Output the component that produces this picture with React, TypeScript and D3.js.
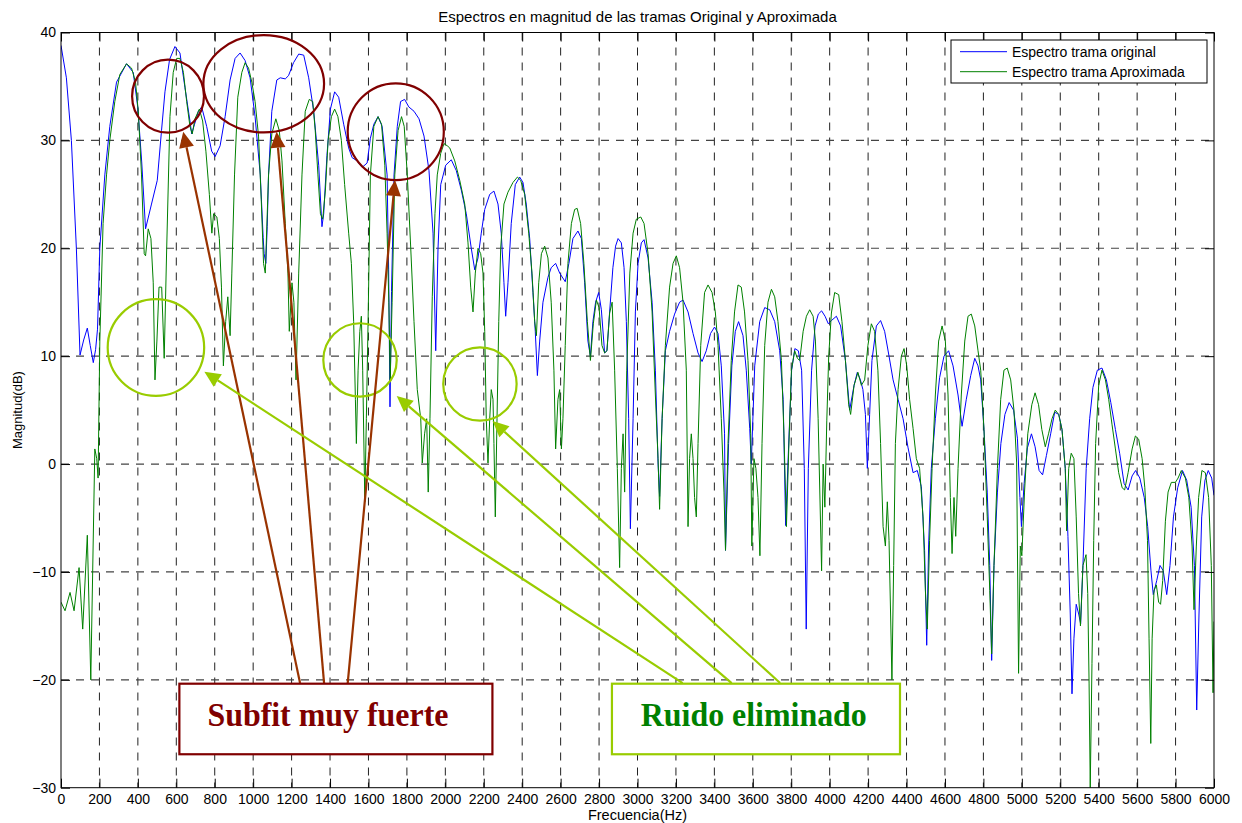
import { useEffect, useRef } from "react";
import * as d3 from "d3";

// Frequency (Hz) / magnitude (dB) pairs
const spectrumOriginal: [number, number][] = [
  [0, 38.8], [28, 35.8], [54, 30], [80, 20], [99, 10.1], [118, 11.5], [137, 12.6], [152, 11], [168, 9.4], [180, 10.6],
  [190, 12.5], [202, 20], [228, 26.8], [254, 31.3], [289, 35.4], [341, 37.1], [376, 36.3], [400, 33], [420, 28], [440, 21.8],
  [471, 24.1], [501, 26.3], [523, 30.9], [541, 34.5], [565, 37.5], [593, 38.7], [619, 38.1], [645, 34.9], [671, 31.8], [680, 30.6],
  [695, 31.5], [715, 32.7], [732, 33.1], [758, 31.3], [784, 29], [802, 28.5], [828, 29.5], [854, 32.2], [880, 35.6], [906, 37.6],
  [932, 38.1], [958, 37.4], [984, 35.8], [1010, 32.2], [1037, 26.8], [1052, 21], [1057, 19.5], [1066, 18.6], [1073, 22], [1080, 26.8],
  [1097, 32.7], [1123, 35.6], [1141, 35.8], [1167, 35.7], [1184, 36], [1210, 37.2], [1237, 38], [1263, 37.9], [1289, 35.8], [1315, 32.7],
  [1341, 27.7], [1358, 22], [1367, 23.2], [1384, 28.6], [1402, 32.9], [1424, 34.5], [1445, 34], [1471, 31.5], [1497, 29.3], [1515, 28.4],
  [1541, 28.1], [1567, 27.5], [1593, 27.9], [1610, 30.2], [1628, 31.5], [1650, 32.2], [1671, 31.3], [1697, 26.8], [1705, 18], [1712, 5.3],
  [1720, 16], [1733, 26.8], [1750, 31.3], [1767, 33.6], [1788, 33.8], [1810, 33.1], [1837, 32.7], [1863, 32], [1889, 30.4], [1915, 27.2],
  [1936, 21.4], [1950, 10.5], [1962, 20], [1976, 25.9], [2002, 27.7], [2031, 28.2], [2057, 27.2], [2083, 25.4], [2109, 23.2], [2135, 20],
  [2153, 18], [2170, 19.1], [2187, 21.4], [2205, 23.6], [2231, 25], [2253, 25.3], [2274, 24.1], [2291, 21.4], [2305, 16.8], [2314, 13.7],
  [2326, 16.8], [2343, 22.3], [2364, 25.9], [2387, 26.6], [2404, 26.1], [2421, 24.1], [2439, 20.9], [2456, 15.9], [2468, 12.3], [2479, 8.2],
  [2491, 11.4], [2508, 15], [2534, 17.3], [2551, 18.2], [2574, 18.6], [2595, 17.7], [2624, 16.9], [2643, 18.6], [2664, 20.9], [2690, 21.6],
  [2708, 20.9], [2725, 16.8], [2742, 11.4], [2755, 10], [2768, 13.2], [2782, 15], [2798, 15.9], [2812, 14.3], [2829, 10.3], [2841, 10.5],
  [2855, 14.1], [2872, 18.2], [2886, 20.2], [2899, 20.9], [2916, 20.5], [2930, 18.2], [2942, 13.2], [2954, 4.2], [2963, -6], [2977, 4.2],
  [2989, 14.1], [3003, 18.6], [3020, 20.5], [3034, 20.8], [3055, 19.1], [3076, 15], [3093, 8.7], [3107, 0.1], [3115, -3], [3128, 4.2],
  [3145, 10.5], [3167, 12.3], [3193, 13.9], [3219, 15], [3237, 15.2], [3263, 14.1], [3289, 12.1], [3315, 10.3], [3336, 9.5], [3358, 10.5],
  [3380, 12.1], [3401, 12.7], [3419, 12.1], [3436, 9.1], [3453, 2.8], [3458, -8], [3474, 1.9], [3491, 9.1], [3509, 12.3], [3526, 13.2],
  [3549, 11.9], [3566, 8.7], [3584, 3.3], [3592, 0], [3600, 4], [3610, 9.1], [3636, 13.2], [3662, 14.5], [3688, 14.3], [3714, 13.2],
  [3740, 10.5], [3758, 6], [3771, -5.7], [3785, 1], [3802, 8.7], [3819, 10.7], [3837, 10.5], [3854, 8.7], [3868, -0.4], [3878, -15.3],
  [3889, -0.4], [3906, 8.7], [3924, 12.8], [3941, 13.9], [3958, 14.2], [3976, 13.7], [3993, 13], [4009, 13.3], [4035, 13.7], [4057, 12.8],
  [4082, 9.6], [4104, 5], [4127, 7.3], [4144, 8.5], [4160, 7.8], [4173, 6.9], [4186, 4.6], [4196, -0.4], [4208, 4.6], [4220, 9.6],
  [4243, 12.8], [4265, 13.3], [4286, 12.3], [4309, 10], [4330, 7.8], [4356, 6], [4382, 4.2], [4408, 1.5], [4434, -0.8], [4456, -0.6],
  [4477, -2.1], [4494, -8], [4505, -16.8], [4515, -7.5], [4529, -0.4], [4550, 4.2], [4572, 8], [4595, 10], [4619, 10.5], [4642, 9.1],
  [4668, 6.4], [4689, 3.5], [4711, 6], [4734, 8.2], [4755, 9.8], [4772, 9.1], [4786, 7.8], [4803, 3.2], [4820, -2.6], [4833, -9.4],
  [4843, -18.2], [4855, -9.4], [4873, -2.6], [4891, 1.9], [4912, 4.6], [4934, 5.7], [4957, 5], [4977, 2.4], [4990, -3.1], [4998, -5.8],
  [5012, -1.8], [5029, 1.5], [5050, 2.8], [5069, 1.6], [5090, -0.6], [5108, -1], [5128, 0.8], [5150, 2.8], [5171, 4.8], [5192, 4.6],
  [5209, 3.2], [5226, -0.4], [5240, -6.7], [5252, -13.9], [5261, -21.3], [5271, -16.2], [5283, -13], [5296, -13.9], [5306, -14.8], [5318, -9.4],
  [5335, -0.4], [5353, 4.2], [5370, 7.1], [5393, 8.7], [5417, 8.9], [5440, 7.8], [5463, 5.7], [5487, 3.2], [5509, 1], [5532, -1.8],
  [5553, -2.4], [5574, -1.1], [5592, -0.6], [5614, -1.3], [5637, -3.1], [5655, -5.8], [5672, -9.9], [5684, -12.1], [5702, -10.8], [5719, -9.4],
  [5736, -9.9], [5754, -12.1], [5771, -9.4], [5789, -4.9], [5811, -2.2], [5836, -0.6], [5858, -1.5], [5881, -4], [5898, -9.4], [5910, -22.8],
  [5922, -13.9], [5936, -4.9], [5953, -1.5], [5970, -0.6], [5988, -1.3], [6000, -2.9],
];

const spectrumApprox: [number, number][] = [
  [0, -12.8], [21, -13.6], [47, -11.9], [68, -13.6], [94, -9.6], [113, -15.3], [137, -6.6], [155, -20], [176, 1.4], [186, 0.5],
  [193, -1.3], [202, 11.4], [219, 22.3], [237, 26.8], [254, 30], [280, 33.6], [306, 36.1], [341, 37.1], [367, 36.7], [388, 35.4],
  [402, 32.7], [419, 26.8], [433, 19.5], [440, 19.3], [454, 21.8], [468, 20.9], [480, 16.8], [489, 7.8], [499, 11.4], [510, 16.4],
  [524, 16.4], [537, 9.8], [550, 20], [567, 32.2], [584, 36.3], [602, 37.6], [619, 37.6], [637, 36.3], [654, 33.6], [671, 31.3],
  [683, 30.6], [697, 32], [720, 32.9], [737, 31.8], [754, 29], [772, 25], [785, 21.4], [794, 23.2], [811, 22.9], [824, 20.9],
  [835, 16.4], [845, 9.1], [857, 13.2], [868, 15.5], [880, 11.9], [889, 17.7], [903, 26.8], [920, 34], [941, 36.3], [958, 37.2],
  [976, 36.7], [993, 35.4], [1010, 33.6], [1028, 30.4], [1042, 24.5], [1054, 18.6], [1063, 17.7], [1080, 26.8], [1097, 30.6], [1118, 32],
  [1136, 30.9], [1150, 28.1], [1167, 22.3], [1181, 17.7], [1188, 12.3], [1202, 16.8], [1212, 15], [1223, 7.8], [1237, 17.7], [1254, 26.8],
  [1271, 32.7], [1292, 33.8], [1310, 33.6], [1323, 30.9], [1337, 26.8], [1350, 23.2], [1362, 22.7], [1376, 25.4], [1390, 30], [1407, 32.2],
  [1424, 32.9], [1441, 32.2], [1459, 30], [1476, 25.9], [1497, 21.4], [1511, 18.6], [1523, 13.2], [1532, 6], [1537, 1.9], [1546, 8.7],
  [1555, 12.3], [1563, 13.7], [1570, 8.7], [1581, -3.5], [1589, 4.2], [1598, 13.2], [1610, 26.8], [1628, 31.3], [1650, 32.2], [1668, 31.5],
  [1685, 27.7], [1697, 21.4], [1706, 15], [1713, 7.8], [1723, 15], [1737, 26.8], [1754, 30.9], [1772, 32.2], [1786, 31.3], [1802, 26.8],
  [1820, 20], [1837, 13.2], [1854, 6.9], [1872, 4.2], [1880, 0.1], [1892, 2.8], [1903, 4.2], [1911, -2.6], [1920, 4.2], [1932, 15.5],
  [1946, 23.2], [1958, 26.8], [1976, 28.8], [1993, 29.7], [2010, 29.5], [2023, 29.3], [2049, 28.1], [2075, 26.3], [2101, 24.1], [2118, 20.5],
  [2132, 16.4], [2144, 14.1], [2156, 17.7], [2170, 20], [2184, 19.5], [2196, 17.7], [2205, 12.3], [2213, 4.2], [2222, 0.1], [2231, 4.2],
  [2239, 6.9], [2248, 6], [2253, 1.9], [2260, -4.9], [2269, 4.2], [2278, 13.2], [2288, 20], [2305, 24.1], [2326, 25.2], [2352, 26.1],
  [2375, 26.6], [2392, 26.3], [2413, 25], [2434, 21.4], [2451, 17.7], [2465, 13.2], [2474, 11.9], [2486, 16.8], [2500, 19.5], [2517, 20.2],
  [2534, 19.1], [2551, 15], [2565, 8.7], [2574, 1.4], [2586, 6], [2595, 6.9], [2604, 1.4], [2612, 4.2], [2624, 11], [2638, 18.6],
  [2656, 22.3], [2673, 23.6], [2686, 23.7], [2704, 22.3], [2721, 18.6], [2739, 13.2], [2755, 9.6], [2770, 13], [2786, 15.2], [2800, 14.5],
  [2815, 11], [2829, 10.3], [2841, 10.5], [2855, 14], [2868, 15], [2881, 8.7], [2895, -0.4], [2907, -9.6], [2916, -0.4], [2925, 2.8],
  [2933, -2.6], [2944, 8.7], [2960, 17.7], [2977, 21.4], [2994, 22.7], [3017, 22.9], [3034, 22.3], [3055, 19.5], [3076, 14.1], [3093, 6.4],
  [3107, 0.5], [3115, -4.2], [3128, 4.2], [3145, 11], [3167, 16.4], [3185, 18.6], [3202, 19.3], [3219, 18.2], [3237, 15], [3254, 8.7],
  [3263, -5.8], [3271, 0.5], [3280, 2.8], [3289, 0.5], [3297, -3.1], [3306, -4.9], [3315, 1.9], [3329, 11], [3349, 15.9], [3367, 16.6],
  [3388, 15.9], [3405, 14.1], [3419, 11], [3436, 4.2], [3450, -2.6], [3458, -8], [3471, 1.9], [3488, 9.6], [3505, 14.1], [3523, 16.6],
  [3540, 16.4], [3557, 14.1], [3575, 9.6], [3589, 2.8], [3595, -7.6], [3606, 0.5], [3616, -0.4], [3627, -3.1], [3637, -8.5], [3648, 1.9],
  [3662, 11], [3679, 15], [3697, 16.2], [3714, 15.5], [3731, 13.2], [3749, 9.6], [3762, 2.8], [3775, -5.8], [3787, 1.4], [3801, 8.7],
  [3818, 10.5], [3832, 9.8], [3844, 9.6], [3862, 12.3], [3879, 13.7], [3896, 14.3], [3914, 13.7], [3926, 11.4], [3940, 4.2], [3958, -9.9],
  [3966, 0], [3975, -4], [3985, 4], [3995, 10], [4009, 14], [4026, 15.9], [4047, 15.7], [4064, 13.2], [4082, 9.6], [4099, 5.5],
  [4109, 4.6], [4127, 7.3], [4147, 8.5], [4165, 7.3], [4182, 7.8], [4199, 11], [4217, 13], [4234, 12.3], [4251, 8.7], [4265, 1.9],
  [4278, -5.8], [4290, -7.6], [4300, -3.5], [4309, -7.1], [4317, -13.9], [4324, -20], [4333, -9.4], [4342, 1.9], [4356, 6.9], [4373, 10],
  [4387, 10.7], [4401, 9.1], [4416, 6], [4434, 3.3], [4451, 0.5], [4468, -0.4], [4486, -4.9], [4498, -11.7], [4508, -15.3], [4520, -7.1],
  [4533, -0.4], [4550, 6.4], [4567, 11.4], [4585, 12.8], [4602, 11.4], [4616, 6.4], [4628, -3.1], [4637, -8.3], [4647, -3.1], [4656, -6.7],
  [4668, -0.4], [4685, 6.4], [4703, 11.4], [4720, 13.7], [4737, 13.9], [4755, 12.8], [4772, 10.5], [4786, 8.7], [4803, 3.2], [4820, -4.9],
  [4833, -11.7], [4843, -17.6], [4855, -9.4], [4873, -0.4], [4890, 6], [4907, 8.7], [4924, 8.9], [4942, 7.8], [4959, 5], [4973, 0.1],
  [4983, -19.4], [4992, -7.6], [5000, -8.5], [5014, -2.6], [5031, 2.8], [5052, 5.5], [5069, 6.6], [5087, 5.5], [5104, 3.2], [5122, 1.6],
  [5139, 2.8], [5157, 4.2], [5174, 5], [5192, 4.6], [5209, 3.2], [5226, -0.4], [5233, -6.2], [5244, -0.4], [5257, 1], [5271, 0.5],
  [5283, -4.9], [5295, -12], [5305, -15], [5318, -9.4], [5334, -8.4], [5343, -12], [5350, -20.3], [5356, -30], [5365, -18.5], [5374, -7.1],
  [5384, 1.9], [5400, 7.3], [5417, 8.7], [5435, 7.8], [5452, 6], [5469, 3.7], [5487, 1.4], [5504, -0.8], [5522, -2.2], [5535, -2.4],
  [5553, -0.8], [5574, 1.4], [5591, 2.6], [5608, 2.3], [5626, 0.5], [5640, -2.2], [5654, -7.1], [5662, -16.2], [5671, -25.9], [5678, -16.2],
  [5688, -11.7], [5700, -11.2], [5712, -12.8], [5722, -13], [5733, -10.8], [5747, -5.3], [5761, -2.6], [5778, -1.7], [5799, -1.7], [5813, -1.3],
  [5830, -0.6], [5851, -1.3], [5869, -3.1], [5886, -7.6], [5896, -13.5], [5908, -7.6], [5920, -3.1], [5937, -0.6], [5955, -0.8], [5972, -3.1],
  [5986, -9.4], [5995, -21.2], [6000, -14.6],
];

const xTicks = d3.range(0, 6001, 200);
const yTicks = [-30, -20, -10, 0, 10, 20, 30, 40];
const seriesNames = ["Espectro trama original", "Espectro trama Aproximada"];
const seriesColors = ["#0000ff", "#008000"];

// annotations, in data units: centre (Hz, dB) and radii (Hz, dB)
const redEllipses = [
  [557, 34.1, 187, 3.38],
  [1055, 35.25, 314, 4.51],
  [1742, 30.8, 250, 4.48],
];
const greenEllipses = [
  [494, 10.8, 251, 4.48],
  [1556, 9.65, 191, 3.4],
  [2180, 7.42, 191, 3.4],
];
// arrows: from (Hz, dB) to tip (Hz, dB)
const redArrows = [
  [1244, -20.3, 636, 30.81],
  [1369, -20.3, 1122, 30.81],
  [1492, -20.3, 1738, 26.33],
];
const greenArrows = [
  [3235, -20.3, 746, 8.56],
  [3490, -20.3, 1747, 6.31],
  [3742, -20.3, 2246, 3.99],
];
// label boxes: [fromHz, toHz, topDb, bottomDb]
const labelBoxes = [
  { text: "Subfit muy fuerte", box: [616, 2245, -20.36, -26.9], textHz: 762, len: 241, stroke: "#800000", color: "#800000" },
  { text: "Ruido eliminado", box: [2867, 4366, -20.36, -26.9], textHz: 3017, len: 226, stroke: "#99cc00", color: "#008000" },
];

export default function App() {
  const svgRef = useRef<SVGSVGElement>(null);

  useEffect(() => {
    if (!svgRef.current) return;
    document.body.style.margin = "0";

    const width = 1242;
    const height = 823;
    const svg = d3.select(svgRef.current);
    svg.selectAll("*").remove();

    const margin = { top: 32.5, right: 28, bottom: 35.3, left: 61 };
    const innerWidth = width - margin.left - margin.right;
    const innerHeight = height - margin.top - margin.bottom;
    const font = "'Liberation Sans', Arial, Helvetica, sans-serif";
    const serif = "'Liberation Serif', 'Times New Roman', serif";

    const x = d3.scaleLinear().domain([0, 6000]).range([0, innerWidth]);
    const y = d3.scaleLinear().domain([-30, 40]).range([innerHeight, 0]);

    svg.append("rect").attr("width", width).attr("height", height).attr("fill", "#fff");

    const g = svg.append("g").attr("transform", `translate(${margin.left},${margin.top})`);

    svg.append("defs").append("clipPath").attr("id", "plot-clip")
      .append("rect").attr("width", innerWidth).attr("height", innerHeight);

    // Grid
    g.append("g").selectAll("line")
      .data(xTicks.filter(t => t > 0 && t < 6000))
      .enter().append("line")
      .attr("x1", d => x(d)).attr("x2", d => x(d))
      .attr("y1", 0).attr("y2", innerHeight)
      .attr("stroke", "#222").attr("stroke-width", 1)
      .attr("stroke-dasharray", "8,7");
    g.append("g").selectAll("line")
      .data(yTicks.filter(t => t > -30 && t < 40))
      .enter().append("line")
      .attr("x1", 0).attr("x2", innerWidth)
      .attr("y1", d => y(d)).attr("y2", d => y(d))
      .attr("stroke", "#444").attr("stroke-width", 1.2)
      .attr("stroke-dasharray", "8,7");

    // Lines
    const line = d3.line<[number, number]>().x(d => x(d[0])).y(d => y(d[1]));
    const plot = g.append("g").attr("clip-path", "url(#plot-clip)");
    [spectrumOriginal, spectrumApprox].forEach((s, i) => {
      plot.append("path")
        .datum(s)
        .attr("fill", "none")
        .attr("stroke", seriesColors[i])
        .attr("stroke-width", 1)
        .attr("stroke-linejoin", "round")
        .attr("d", line);
    });

    // Axes (MATLAB style: inner ticks on all four sides)
    const tick = 9;
    const styleAxis = (a: d3.Selection<SVGGElement, unknown, null, undefined>) => {
      a.select(".domain").remove();
      a.selectAll("line").attr("stroke", "#000");
      a.selectAll("text").attr("font-family", font).attr("font-size", 14).attr("fill", "#000");
    };
    g.append("g").attr("transform", `translate(0,${innerHeight})`)
      .call(d3.axisBottom(x).tickValues(xTicks).tickSizeInner(-tick).tickSizeOuter(0).tickPadding(6).tickFormat(d3.format("d")))
      .call(styleAxis);
    g.append("g")
      .call(d3.axisTop(x).tickValues(xTicks).tickSizeInner(-tick).tickSizeOuter(0).tickFormat(() => ""))
      .call(styleAxis);
    g.append("g")
      .call(d3.axisLeft(y).tickValues(yTicks).tickSizeInner(-tick).tickSizeOuter(0).tickPadding(5).tickFormat(d3.format("d")))
      .call(styleAxis);
    g.append("g").attr("transform", `translate(${innerWidth},0)`)
      .call(d3.axisRight(y).tickValues(yTicks).tickSizeInner(-tick).tickSizeOuter(0).tickFormat(() => ""))
      .call(styleAxis);

    g.append("rect")
      .attr("width", innerWidth).attr("height", innerHeight)
      .attr("fill", "none").attr("stroke", "#000").attr("stroke-width", 1);

    // Titles
    svg.append("text")
      .attr("x", margin.left + innerWidth / 2).attr("y", 22)
      .attr("text-anchor", "middle")
      .attr("font-family", font).attr("font-size", 15)
      .text("Espectros en magnitud de las tramas Original y Aproximada");
    svg.append("text")
      .attr("x", margin.left + innerWidth / 2).attr("y", 820)
      .attr("text-anchor", "middle")
      .attr("font-family", font).attr("font-size", 14.5)
      .text("Frecuencia(Hz)");
    svg.append("text")
      .attr("transform", `translate(22,${margin.top + innerHeight / 2}) rotate(-90)`)
      .attr("text-anchor", "middle")
      .attr("font-family", font).attr("font-size", 13)
      .text("Magnitud(dB)");

    // Legend
    const legend = svg.append("g").attr("transform", "translate(951,40)");
    legend.append("rect").attr("width", 256).attr("height", 43)
      .attr("fill", "#fff").attr("stroke", "#000").attr("stroke-width", 1);
    seriesNames.forEach((name, i) => {
      const ly = 11.7 + i * 20;
      legend.append("line").attr("x1", 9).attr("x2", 56).attr("y1", ly).attr("y2", ly)
        .attr("stroke", seriesColors[i]).attr("stroke-width", 1);
      legend.append("text").attr("x", 61).attr("y", ly + 5)
        .attr("font-family", font).attr("font-size", 14)
        .text(name);
    });

    // Annotations
    const ann = g.append("g");
    const drawEllipses = (list: number[][], color: string) => {
      ann.selectAll(null).data(list).enter().append("ellipse")
        .attr("cx", d => x(d[0])).attr("cy", d => y(d[1]))
        .attr("rx", d => x(d[2]) - x(0)).attr("ry", d => y(0) - y(d[3]))
        .attr("fill", "none").attr("stroke", color).attr("stroke-width", 2.2);
    };
    drawEllipses(redEllipses, "#800000");
    drawEllipses(greenEllipses, "#99cc00");

    const drawArrows = (list: number[][], color: string) => {
      list.forEach(([f0, d0, f1, d1]) => {
        const x0 = x(f0), y0 = y(d0), x1 = x(f1), y1 = y(d1);
        const len = Math.hypot(x1 - x0, y1 - y0);
        const ux = (x1 - x0) / len, uy = (y1 - y0) / len;
        const head = 16, half = 7.5;
        const bx = x1 - ux * head, by = y1 - uy * head;
        ann.append("line")
          .attr("x1", x0).attr("y1", y0).attr("x2", bx).attr("y2", by)
          .attr("stroke", color).attr("stroke-width", 2.2);
        ann.append("polygon")
          .attr("points", [
            [x1, y1],
            [bx - uy * half, by + ux * half],
            [bx + uy * half, by - ux * half],
          ].map(p => p.join(",")).join(" "))
          .attr("fill", color);
      });
    };
    drawArrows(redArrows, "#993300");
    drawArrows(greenArrows, "#99cc00");

    labelBoxes.forEach(b => {
      const [f0, f1, top, bottom] = b.box;
      ann.append("rect")
        .attr("x", x(f0)).attr("y", y(top))
        .attr("width", x(f1) - x(f0)).attr("height", y(bottom) - y(top))
        .attr("fill", "#fff").attr("stroke", b.stroke).attr("stroke-width", 2.2);
      ann.append("text")
        .attr("x", x(b.textHz)).attr("y", y(-24.25))
        .attr("font-family", serif).attr("font-weight", "bold").attr("font-size", 34)
        .attr("textLength", b.len).attr("lengthAdjust", "spacingAndGlyphs")
        .attr("fill", b.color)
        .text(b.text);
    });
  }, []);

  return <svg ref={svgRef} width={1242} height={823} style={{ display: "block" }} />;
}
